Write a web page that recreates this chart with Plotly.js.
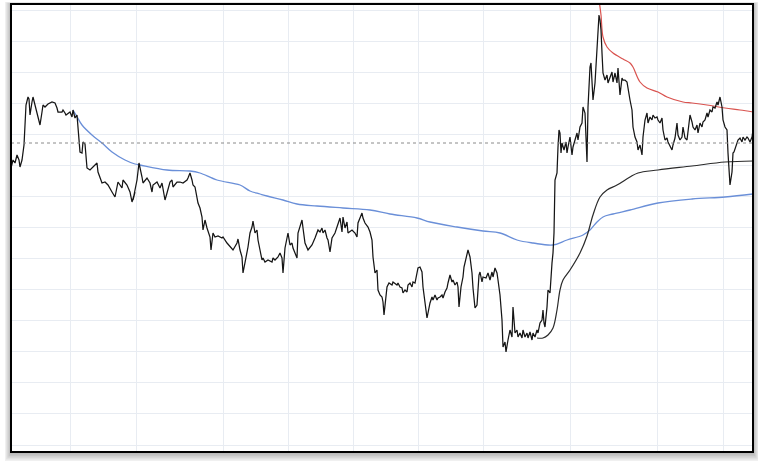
<!DOCTYPE html>
<html>
<head>
<meta charset="utf-8">
<script src="https://cdn.plot.ly/plotly-3.0.1.min.js"></script>
<style>html,body{margin:0;padding:0;background:#fff;}#chart{width:758px;height:463px;}</style>
</head>
<body>
<div id="chart"></div>
<script>
// ---- data (x = trading-day index, y = price level in chart units) ----
const priceDay = [
  11,13,15,17,19,20,22,24,26,28, 29,30,32,33,35,37,38,40,42,43,
  45,48,52,55,57,58,62,63,65,66, 70,72,73,75,77,78,80,82,83,85,
  87,90,93,97,98,102,105,108,112,115, 118,122,123,127,130,132,135,
  133,135,137,139,142,143,147,150,152,153, 157,160,162,163,165,167,170,172,173,177,
  180,183,187,188,190,192,193,195,197,198, 200,202,203,205,207,210,211,213,215,218,
  222,223,227,230,233,237,238,240,242,243, 245,247,248,250,252,253,255,257,258,260,
  262,263,265,268,272,273,275,278,280,282, 283,285,287,288,290,292,293,295,297,298,
  300,302,303,305,308,310,312,315,317,318, 320,322,323,325,327,328,330,332,335,337,
  338,340,342,343,345,347,348,352,355,357, 358,360,362,363,365,368,370,372,373,375,
  377,378,380,382,383,384,
  386,387,389,392,393,397,398,400,402,403, 405,407,408,410,412,413,415,417,418,420,
  422,423,425,427,428,430,432,433,435,437, 438,440,442,443,445,447,448,450,452,453,
  455,457,458,459,461,463,464,465,466,467, 468,470,472,473,475,477,478,479,480,482,
  483,486,488,490,492,493,495,497,498,500, 502,503,505,506,508,
  510,512,513,515,517,518,520,522,523,525, 527,528,530,532,533,535,537,538,540,542,
  543,544,545,547,548,550,551,552,553,554, 555,557,558,559,560,561,562,564,566,567,
  568,570,572,573,575,577,578,580,582,583, 585,586,587,588,589,590,591,592,593,595,
  597,598,599,600,601,602,603,605,607,608, 610,612,613,615,617,618,620,622,623,625,
  627,
  628,630,632,633,635,637,638,640,642,643, 645,647,648,650,652,653,655,657,658,660,
  662,663,665,667,668,670,672,673,675,677, 678,680,682,683,685,687,688,690,692,693,
  695,697,698,700,702,703,705,707,708,710, 712,713,715,717,718,720,722,723,725,727,
  728,729,730,732,733,734,736,737,738,740, 742,743,745,747,748,750,752,753
];
const priceValue = [
  277,285,282,290,285,278,285,300,340,348, 346,330,343,348,340,333,327,320,333,340,
  338,341,343,342,337,333,333,335,332,330, 333,328,335,327,330,317,293,292,303,301,
  277,275,278,282,273,262,263,260,253,248, 263,257,265,260,253,243,253,
  245,255,265,282,268,262,267,262,253,260, 263,257,262,255,245,252,263,265,258,263,
  263,262,265,267,272,265,260,258,248,242, 237,228,215,225,217,208,195,212,208,209,
  207,208,202,198,195,202,206,195,188,172, 182,192,198,212,218,224,212,215,205,195,
  185,187,183,185,183,187,185,188,192,187, 172,197,208,212,200,202,197,192,187,212,
  218,225,217,202,195,197,200,207,212,215, 213,217,212,215,207,205,193,207,212,218,
  220,227,213,228,217,223,212,215,212,208, 222,228,232,227,222,218,213,205,188,172,
  175,155,150,148,143,130,
  152,158,162,160,163,160,162,158,157,152, 155,153,160,162,158,163,162,172,177,178,
  173,158,142,127,132,142,148,145,150,145, 147,148,150,147,153,157,162,170,163,165,
  160,163,158,138,158,168,178,182,187,190, 195,188,172,157,137,140,158,170,173,163,
  168,167,172,165,173,168,177,172,165,150, 125,98,103,93,105,
  115,108,138,112,115,108,112,107,115,108, 112,107,113,105,112,108,115,112,122,125,
  135,122,118,138,155,152,172,182,192,212, 265,272,298,315,312,292,302,295,303,292,
  298,308,290,298,305,312,305,318,322,338, 332,305,283,338,362,378,382,358,345,362,
  395,405,430,425,415,392,372,365,370,362, 368,373,363,372,362,377,350,367,365,365,
  363,
  355,345,335,318,308,303,295,300,290,308, 325,332,322,328,325,330,327,328,325,322,
  327,315,305,307,303,298,295,300,307,322, 310,305,308,318,307,305,315,330,323,318,
  315,320,312,322,318,323,325,332,328,335, 333,338,337,343,340,348,338,325,318,315,
  292,275,260,273,292,293,300,303,305,307, 303,308,305,308,307,303,308,315
];

const maDay = [73,76,82,92,102,112,125,135,140,167,190,200,217,240,250,260,267,283,297,317,343,370,390,417,430,457,483,500,517,533,553,567,583,590,597,603,613,630,658,692,725,753];
const maValue = [335,330,320,310,302,293,285,281,280,275,274,272,265,260,254,251,249,245,241,239,237,235,231,227,223,218,214,212,205,202,200,205,210,215,223,228,231,235,242,246,248,251];

const slowDay = [537,543,548,553,557,560,563,570,580,587,593,600,607,617,630,638,658,692,725,753];
const slowValue = [107,107,110,117,135,155,165,175,192,209,230,248,255,260,268,272,275,279,283,284];

const upperDay = [599,601,603,607,613,623,630,633,640,647,658,667,683,692,707,725,740,753];
const upperValue = [445,430,408,398,392,386,382,378,363,357,353,348,343,342,340,337,335,333];

const refLevel = 302;
const gridDays = [70,136,223,288,353,418,483,570,657,723];

// ---- chart ----
const W = 742, H = 448;
const shapes = [];
for (let i = 1; i <= 5; i++) {
  shapes.push({type:'rect', xref:'paper', yref:'paper', layer:'below',
    x0: -(i*1.2)/W, x1: 1 + (i*1.2)/W, y0: -(i*1.6 + 1)/H, y1: 1 + (i*0.4)/H,
    line:{width:0}, fillcolor:'rgba(0,0,0,0.06)'});
}
// white plot face over the shadow
shapes.push({type:'rect', xref:'paper', yref:'paper', layer:'below',
  x0:0, x1:1, y0:0, y1:1, line:{width:0}, fillcolor:'#ffffff'});
shapes.push({type:'line', xref:'paper', yref:'y', x0:0, x1:1, y0:refLevel, y1:refLevel,
  line:{color:'#8a8a8a', width:1, dash:'dot'}});
shapes.push({type:'rect', xref:'paper', yref:'paper', x0:0, x1:1, y0:0, y1:1,
  line:{color:'#000', width:2}, fillcolor:'rgba(0,0,0,0)'});

const traces = [
  {x: maDay, y: maValue, type:'scatter', mode:'lines', line:{color:'#6a8fd8', width:1.3, shape:'spline'}},
  {x: slowDay, y: slowValue, type:'scatter', mode:'lines', line:{color:'#2a2a2a', width:1.2, shape:'spline'}},
  {x: upperDay, y: upperValue, type:'scatter', mode:'lines', line:{color:'#d9534f', width:1.2, shape:'spline'}},
  {x: priceDay, y: priceValue, type:'scatter', mode:'lines', line:{color:'#151515', width:1.25}}
];

const layout = {
  width: 758, height: 463,
  margin: {l:11, r:5, t:4, b:11, pad:0},
  paper_bgcolor:'#fff', plot_bgcolor:'rgba(0,0,0,0)',
  showlegend:false,
  xaxis:{range:[11,753], tickmode:'array', tickvals:gridDays, showticklabels:false, ticks:'',
    showgrid:true, gridcolor:'#e8ecf2', gridwidth:1, zeroline:false, showline:false, fixedrange:true},
  yaxis:{range:[-7,441], tick0:0, dtick:31.07, showticklabels:false, ticks:'',
    showgrid:true, gridcolor:'#e8ecf2', gridwidth:1, zeroline:false, showline:false, fixedrange:true},
  shapes: shapes
};

Plotly.newPlot('chart', traces, layout, {staticPlot:true, displayModeBar:false});
</script>
</body>
</html>
